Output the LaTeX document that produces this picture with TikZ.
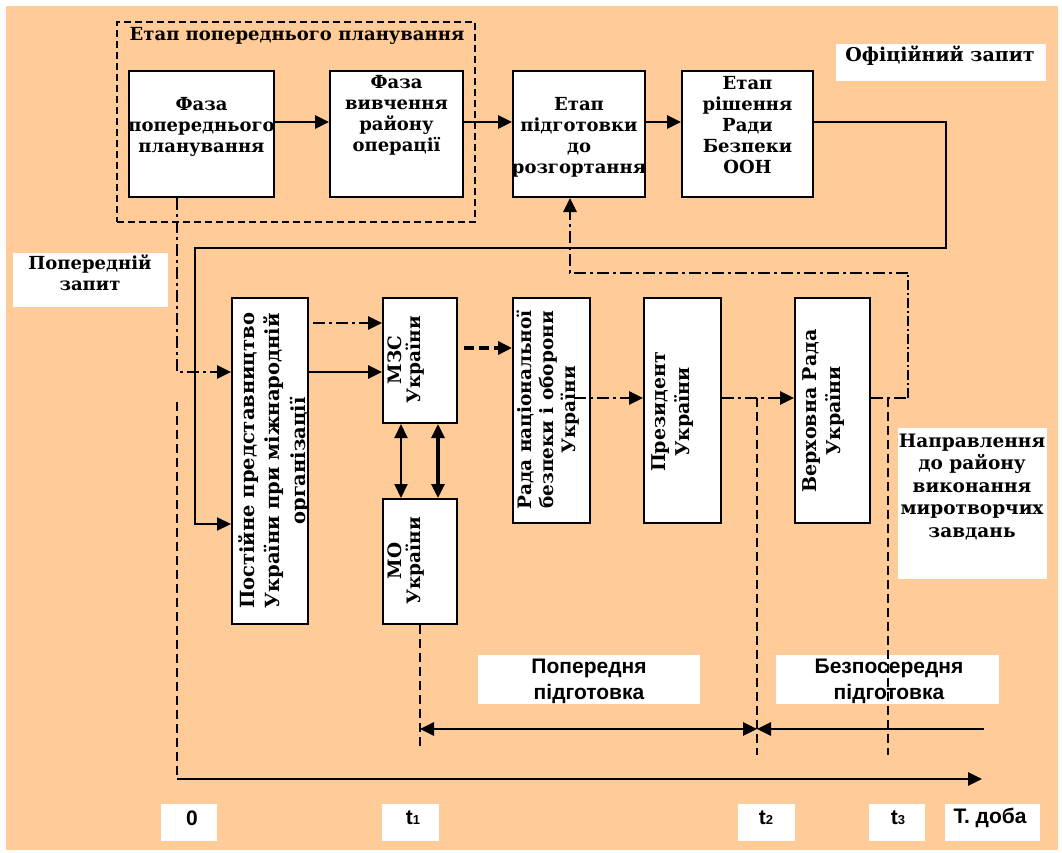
\documentclass[tikz,border=0pt]{standalone}
\usepackage{fontspec}
\setmainfont{DejaVu Serif}
\newfontfamily\sansb{Liberation Sans}
\usetikzlibrary{arrows.meta}
\definecolor{peach}{RGB}{255,204,153}
\tikzset{
  box/.style={draw, fill=white, line width=2pt, inner sep=0pt},
  wbox/.style={fill=white, inner sep=0pt},
  txt/.style={font=\fontsize{18}{21}\selectfont\bfseries, align=center, inner sep=0pt},
  rtxt/.style={txt, rotate=90},
  btxt/.style={font=\sansb\fontsize{21}{26}\selectfont\bfseries, align=center, inner sep=0pt},
  conn/.style={line width=2.8pt},
  arr/.style={-{Triangle[length=14pt,width=13pt]}},
  arrb/.style={{Triangle[length=14pt,width=13pt]}-{Triangle[length=14pt,width=13pt]}},
  ddot/.style={dash pattern=on 12pt off 4pt on 3pt off 4pt},
  dsh/.style={line width=2.2pt, dash pattern=on 9pt off 5pt},
}
\newcommand{\sub}[1]{{\fontsize{13}{13}\selectfont #1}}
\begin{document}
\begin{tikzpicture}[x=1pt,y=-1pt]
\useasboundingbox (0,0) rectangle (1062,853);
\fill[white] (0,0) rectangle (1062,853);
\fill[peach] (6,6) rectangle (1058,850);

% dashed stage frame
\node[draw, line width=2.2pt, dash pattern=on 7pt off 4pt, minimum width=358, minimum height=200, inner sep=0pt] (stage) at (296,122) {};
\node[txt] (stagetxt) at (297,36) {Етап попереднього планування};

% white labels
\node[wbox, minimum width=155, minimum height=54] (pz) at (90.5,280) {};
\node[txt] (pzt) at (90,273) {Попередній\\запит};
\node[wbox, minimum width=210, minimum height=37] (oz) at (941,62.5) {};
\node[txt, font=\fontsize{19}{21}\selectfont\bfseries] (ozt) at (940,56) {Офіційний запит};
\node[wbox, minimum width=149, minimum height=151] (nap) at (972.5,503.5) {};
\node[txt, font=\fontsize{18.5}{22.5}\selectfont\bfseries] (napt) at (972,487) {Направлення\\до району\\виконання\\миротворчих\\завдань};
\node[wbox, minimum width=222, minimum height=49] (pp) at (589,679.5) {};
\node[btxt] (ppt) at (589,681) {Попередня\\підготовка};
\node[wbox, minimum width=223, minimum height=49] (bp) at (887.5,679.5) {};
\node[btxt] (bpt) at (889,681) {Безпосередня\\підготовка};
\node[wbox, minimum width=56, minimum height=37] (l0) at (189,822.5) {};
\node[btxt] (l0t) at (192,818) {0};
\node[wbox, minimum width=57, minimum height=37] (l1) at (410.5,822.5) {};
\node[btxt] (l1t) at (413,818) {t\sub{1}};
\node[wbox, minimum width=57, minimum height=37] (l2) at (766.5,822.5) {};
\node[btxt] (l2t) at (766,818) {t\sub{2}};
\node[wbox, minimum width=56, minimum height=37] (l3) at (897,822.5) {};
\node[btxt] (l3t) at (898,818) {t\sub{3}};
\node[wbox, minimum width=95, minimum height=37] (l4) at (992.5,822.5) {};
\node[btxt] (l4t) at (990,818) {Т. доба};

% top boxes
\node[box, minimum width=145, minimum height=126] (b1) at (201.5,134) {};
\node[txt] (b1t) at (201.5,127) {Фаза\\попереднього\\планування};
\node[box, minimum width=133, minimum height=126] (b2) at (396.5,134) {};
\node[txt] (b2t) at (396.5,115) {Фаза\\вивчення\\району\\операції};
\node[box, minimum width=132, minimum height=126] (b3) at (579,134) {};
\node[txt] (b3t) at (579,137) {Етап\\підготовки\\до\\розгортання};
\node[box, minimum width=131, minimum height=126] (b4) at (747.5,134) {};
\node[txt] (b4t) at (747.5,125) {Етап\\рішення\\Ради\\Безпеки\\ООН};

% middle boxes
\node[box, minimum width=76, minimum height=326] (pst) at (270,461) {};
\node[rtxt, font=\fontsize{19.5}{25.5}\selectfont\bfseries] (pstt) at (274,461) {Постійне представництво\\України при міжнародній\\організації};
\node[box, minimum width=74, minimum height=125] (mzs) at (420,360.5) {};
\node[rtxt, font=\fontsize{18.5}{19.5}\selectfont\bfseries] (mzst) at (406,360) {МЗС\\України};
\node[box, minimum width=74, minimum height=125] (mo) at (420,561.5) {};
\node[rtxt, font=\fontsize{18.5}{19.5}\selectfont\bfseries] (mot) at (406,561) {МО\\України};
\node[box, minimum width=77, minimum height=225] (rada) at (551.5,410.5) {};
\node[rtxt, font=\fontsize{18.5}{22}\selectfont\bfseries] (radat) at (548,410) {Рада національної\\безпеки і оборони\\України};
\node[box, minimum width=77, minimum height=225] (pres) at (682.5,410.5) {};
\node[rtxt, font=\fontsize{19}{24}\selectfont\bfseries] (prest) at (673,412) {Президент\\України};
\node[box, minimum width=75, minimum height=225] (verkh) at (832.5,410.5) {};
\node[rtxt, font=\fontsize{19}{24}\selectfont\bfseries] (verkht) at (824,411) {Верховна Рада\\України};

% coordinates
\coordinate (c1) at (946,248);
\coordinate (c2) at (195,248);
\coordinate (otop) at (177,402);
\coordinate (o) at (177,779);
\coordinate (tend) at (982,779);
\coordinate (q1) at (908,398);
\coordinate (q2) at (908,273);
\coordinate (t1b) at (420,750);
\coordinate (t2a) at (757,398);
\coordinate (t2b) at (757,755);
\coordinate (t3a) at (888,398);
\coordinate (t3b) at (888,755);
\coordinate (p1) at (420,729);
\coordinate (p2) at (757,729);
\coordinate (p3) at (984,729);

% top row connectors
\draw[conn, arr] ([yshift=12pt]b1.east) -- ([yshift=12pt]b1.east -| b2.west);
\draw[conn, arr] ([yshift=12pt]b2.east) -- ([yshift=12pt]b2.east -| b3.west);
\draw[conn, arr] ([yshift=12pt]b3.east) -- ([yshift=12pt]b3.east -| b4.west);
\draw[line width=2.2pt, arr] ([yshift=12pt]b4.east) -| (c1) -- (c2) |- ([yshift=-63pt]pst.west);

% preliminary request
\draw[conn, ddot, arr] ([xshift=-24.5pt]b1.south) |- ([yshift=89pt]pst.west);
\draw[dsh] (otop) -- (o);
\draw[conn, arr] (o) -- (tend);

% middle connectors
\draw[conn, ddot, arr] ([xshift=4pt,yshift=138pt]pst.east) -- ([yshift=138pt]pst.east -| mzs.west);
\draw[conn, arr] ([yshift=89pt]pst.east) -- ([yshift=89pt]pst.east -| mzs.west);
\draw[line width=3.8pt, dash pattern=on 10pt off 5pt, arr] ([xshift=6pt,yshift=12.5pt]mzs.east) -- ([yshift=12.5pt]mzs.east -| rada.west);
\draw[line width=2pt, arrb] ([xshift=-19pt]mzs.south) -- ([xshift=-19pt]mzs.south |- mo.north);
\draw[line width=3.2pt, arrb] ([xshift=18pt]mzs.south) -- ([xshift=18pt]mzs.south |- mo.north);
\draw[conn, ddot, arr] ([xshift=-17pt,yshift=12.5pt]rada.east) -- ([yshift=12.5pt]rada.east -| pres.west);
\draw[conn, ddot, arr] ([yshift=12.5pt]pres.east) -- ([yshift=12.5pt]pres.east -| verkh.west);
\draw[conn, ddot] ([yshift=12.5pt]verkh.east) -- (q1);
\draw[line width=1.3pt, dash pattern=on 10pt off 3pt on 2pt off 3pt] (q1) -- (q2);
\draw[conn, ddot, arr] (q2) -| ([xshift=-9pt]b3.south);

% time marks
\draw[dsh] (mo.south) -- (t1b);
\draw[dsh] (t2a) -- (t2b);
\draw[dsh] (t3a) -- (t3b);
\draw[conn, arrb] (p1) -- (p2);
\draw[conn, arr] (p3) -- (p2);
\end{tikzpicture}
\end{document}
